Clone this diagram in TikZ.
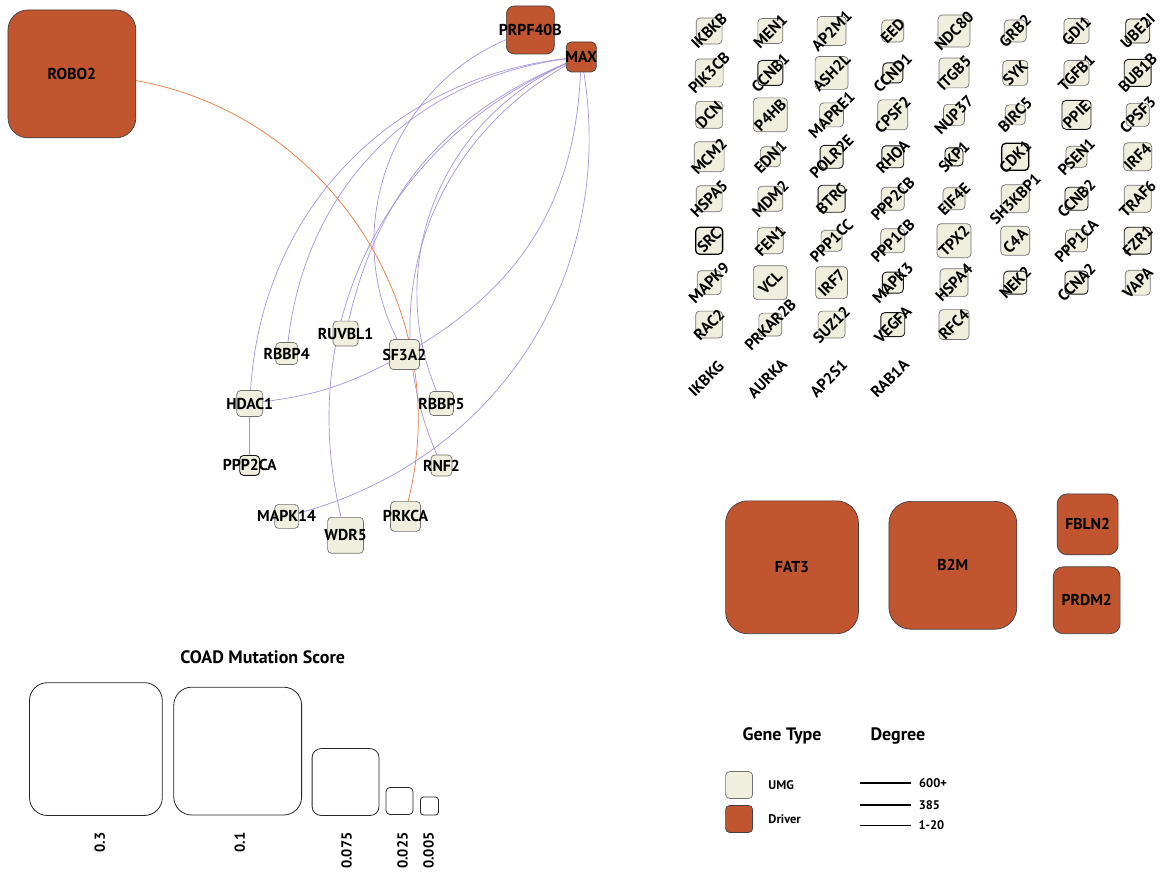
\documentclass[tikz,border=0pt]{standalone}
\usepackage{fontspec}
\setmainfont{PT Sans}
\usetikzlibrary{positioning}
\pgfdeclarelayer{background}
\pgfsetlayers{background,main}

\definecolor{drivercol}{RGB}{192,85,48}
\definecolor{umgcol}{RGB}{240,238,221}
\definecolor{linkcol}{RGB}{168,148,224}
\definecolor{hitcol}{RGB}{240,125,70}

\tikzset{
  gene/.style={draw=black!55, line width=0.7pt, inner sep=0pt, minimum size=#1pt, rounded corners=4pt},
  umg/.style={gene=#1, fill=umgcol},
  driver/.style={gene=#1, fill=drivercol, draw=black!75},
  bdrn/.style={},
  bdrd/.style={draw=black!90, line width=0.9pt},
  bdrD/.style={draw=black, line width=1.3pt},
  lbl/.style={font=\bfseries\fontsize{15.8}{16}\selectfont},
  gtext/.style={label={[lbl]center:#1}},
  gdiag/.style={label={[lbl,rotate=45]center:#1}},
  link/.style={draw=linkcol, line width=0.7pt},
  hit/.style={draw=hitcol, line width=0.75pt},
  scorebox/.style={draw=black!85, line width=0.8pt, fill=white, inner sep=0pt},
  small/.style={font=\bfseries\fontsize{12.5}{13}\selectfont},
  head/.style={font=\bfseries\fontsize{18}{19}\selectfont}
}

\begin{document}
\begin{tikzpicture}[x=1pt, y=-1pt]
\begin{pgfonlayer}{background}
\path[use as bounding box, fill=white] (0,0) rectangle (1163,867);
\end{pgfonlayer}

% Network
\node[driver=128, rounded corners=20pt, gtext=ROBO2] (ROBO2) at (72,74) {};
\node[driver=48, rounded corners=8pt, gtext=PRPF40B] (PRPF40B) at (531,30) {};
\node[driver=30, rounded corners=5pt, gtext=MAX] (MAX) at (582,57) {};
\node[umg=25, gtext=RUVBL1] (RUVBL1) at (346,334) {};
\node[umg=22, gtext=RBBP4] (RBBP4) at (287,354) {};
\node[umg=30, gtext=SF3A2] (SF3A2) at (405,355) {};
\node[umg=26, gtext=HDAC1] (HDAC1) at (250,404) {};
\node[umg=24, gtext=RBBP5] (RBBP5) at (442,404) {};
\node[umg=20, bdrd, gtext=PPP2CA] (PPP2CA) at (250,466) {};
\node[umg=21, gtext=RNF2] (RNF2) at (442,466) {};
\node[umg=24, gtext=MAPK14] (MAPK14) at (287,517) {};
\node[umg=36, gtext=WDR5] (WDR5) at (346,536) {};
\node[umg=30, gtext=PRKCA] (PRKCA) at (406,517) {};

\begin{pgfonlayer}{background}
\draw[link] (MAX) to[bend right=40] (HDAC1);
\draw[link] (MAX) to[bend right=38] (RBBP4);
\draw[link] (MAX) to[bend right=27] (RUVBL1);
\draw[link] (MAX) to[bend right=40] (WDR5);
\draw[link] (MAX) to[bend right=42] (RNF2);
\draw[link] (MAX) to[bend right=44] (RBBP5);
\draw[link] (MAX) to[bend left=28] (SF3A2);
\draw[link] (MAX) to[bend left=42] (MAPK14);
\draw[link] (PRPF40B) to[bend right=47] (SF3A2);
\draw[link] (HDAC1) to[bend right=10] (SF3A2);
\draw[link] (HDAC1) -- (PPP2CA);
\draw[hit] (ROBO2) to[bend left=47] (PRKCA);
\end{pgfonlayer}

% Unlinked genes
\foreach \g/\s/\k [count=\n from 0] in {
  IKBKB/26/n, MEN1/25/n, AP2M1/29/n, EED/22/n, NDC80/32/n, GRB2/22/n, GDI1/25/n, UBE2I/24/d,
  PIK3CB/28/n, CCNB1/25/d, ASH2L/33/n, CCND1/20/d, ITGB5/30/n, SYK/25/n, TGFB1/25/n, BUB1B/27/d,
  DCN/27/n, P4HB/34/n, MAPRE1/24/n, CPSF2/30/n, NUP37/21/n, BIRC5/20/n, PPIE/29/d, CPSF3/23/n,
  MCM2/30/n, EDN1/20/n, POLR2E/23/d, RHOA/22/d, SKP1/18/d, CDK1/27/D, PSEN1/21/n, IRF4/28/n,
  HSPA5/26/n, MDM2/25/n, BTRC/27/d, PPP2CB/23/n, EIF4E/22/n, SH3KBP1/28/n, CCNB2/23/d, TRAF6/27/n,
  SRC/27/D, FEN1/26/n, PPP1CC/21/n, PPP1CB/24/n, TPX2/34/n, C4A/29/n, PPP1CA/22/n, FZR1/27/d,
  MAPK9/24/n, VCL/34/n, IRF7/32/n, MAPK3/21/d, HSPA4/28/n, NEK2/23/d, CCNA2/23/d, VAPA/25/n,
  RAC2/27/n, PRKAR2B/23/n, SUZ12/27/n, VEGFA/24/d, RFC4/30/n} {
  \pgfmathtruncatemacro\col{mod(\n,8)}
  \pgfmathtruncatemacro\row{div(\n,8)}
  \node[umg=\s, bdr\k, gdiag=\g] (\g) at ({710+61.3*\col},{31+42*\row}) {};
}
\foreach \g [count=\n from 0] in {IKBKG, AURKA, AP2S1, RAB1A}
  \node[lbl, rotate=45] (\g) at ({707+61.3*\n},379) {\g};

% Unlinked drivers
\node[driver=133, rounded corners=22pt, gtext=FAT3] (FAT3) at (793,568) {};
\node[driver=128, rounded corners=22pt, gtext=B2M] (B2M) at (954,566) {};
\node[driver=61, rounded corners=10pt, gtext=FBLN2] (FBLN2) at (1089,525) {};
\node[driver=67, rounded corners=10pt, gtext=PRDM2] (PRDM2) at (1088,601) {};

% Mutation score legend
\node[head] (title) at (263,658) {COAD Mutation Score};
\node[scorebox, minimum size=133pt, rounded corners=18pt] (s1) at (96,750) {};
\node[scorebox, minimum size=128pt, rounded corners=18pt] (s2) at (238,752) {};
\node[scorebox, minimum size=67pt, rounded corners=9pt] (s3) at (346,783) {};
\node[scorebox, minimum size=27pt, rounded corners=4pt] (s4) at (400,802) {};
\node[scorebox, minimum size=18pt, rounded corners=3pt] (s5) at (430,807) {};
\foreach \v/\x in {0.3/100, 0.1/240, 0.075/347, 0.025/403, 0.005/429}
  \node[font=\bfseries\fontsize{14.5}{15}\selectfont, rotate=90, anchor=east] (v\x) at (\x,830) {\v};

% Gene type and degree legend
\node[head] (gtype) at (783,737) {Gene Type};
\node[head] (degree) at (899,737) {Degree};
\node[umg=27] (umgkey) at (740,786) {};
\node[driver=27, rounded corners=4pt] (drvkey) at (740,820) {};
\node[small, right=12pt of umgkey] (umgtxt) {UMG};
\node[small, right=12pt of drvkey] (drvtxt) {Driver};
\draw[line width=1.8pt] (861,784) -- (912,784) node[small, right=4pt] (d1) {600+};
\draw[line width=1.1pt] (861,806) -- (912,806) node[small, right=4pt] (d2) {385};
\draw[line width=0.6pt] (861,826) -- (912,826) node[small, right=4pt] (d3) {1-20};
\end{tikzpicture}
\end{document}
